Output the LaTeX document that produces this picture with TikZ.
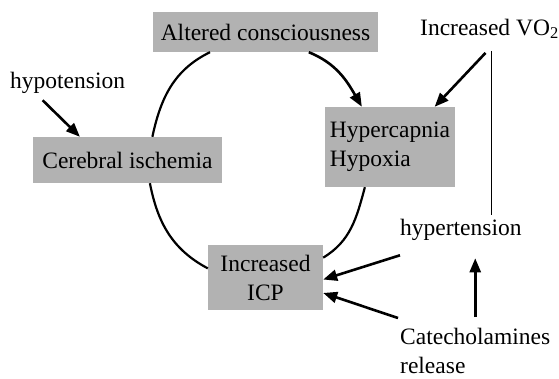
\documentclass[tikz,border=0pt]{standalone}
\usepackage{fontspec}
\setmainfont{Liberation Serif}
\usetikzlibrary{arrows.meta}

\begin{document}
\begin{tikzpicture}[x=1pt,y=-1pt,
  every node/.style={font=\fontsize{23.5}{29}\selectfont, inner sep=3pt},
  box/.style={fill=black!30, inner sep=0pt},
  cyc/.style={line width=2.2pt},
  arr/.style={line width=2.6pt, ->, >={Triangle[length=14pt,width=11pt]}}]
\useasboundingbox (0,0) rectangle (559,378);
\node[box, minimum width=225pt, minimum height=40pt] (alt) at (265.5,32) {Altered consciousness};
\node[box, minimum width=189pt, minimum height=46pt] (cer) at (127.5,160) {Cerebral ischemia};
\node[box, align=left, minimum width=130pt, minimum height=80pt] (hyp) at (390,147) {Hypercapnia\\Hypoxia};
\node[box, align=center, minimum width=115pt, minimum height=65pt] (icp) at (265.5,277.5) {Increased\\ICP};
\node[anchor=base west] (hpo) at (7,88) {hypotension};
\node[anchor=base west] (vo) at (417,35) {Increased VO\textsubscript{2}};
\node[anchor=base west] (hyt) at (397,235) {hypertension};
\node[anchor=north west, align=left, inner sep=0pt] (cat) at (400,328) {Catecholamines\\release};
\draw[cyc] (alt.200) to[out=206, in=78] (cer.43);
\draw[cyc] (cer.-46) to[out=281, in=152] (icp.171);
\draw[cyc] (hyp.238) to[out=-105, in=31] (icp.19);
\draw[arr] (alt.-25) to[out=-22, in=120] (hyp.125);
\draw[arr] ([xshift=-25pt,yshift=-4pt]hpo.south) -- (cer.154);
\draw[arr] ([xshift=-4pt,yshift=-11pt]vo.south) -- (hyp.42);
\draw[line width=1pt] ([xshift=2pt,yshift=-9pt]vo.south) -- ([xshift=2pt]vo.south |- hyt.north);
\draw[arr] ([xshift=3pt,yshift=-12pt]hyt.south west) -- (icp.-2);
\draw[arr] ([xshift=-2pt,yshift=10pt]cat.north west) -- (icp.-15);
\draw[arr] ([yshift=11pt]cat.north) -- ([yshift=-15pt]cat.north |- hyt.south);
\end{tikzpicture}
\end{document}
